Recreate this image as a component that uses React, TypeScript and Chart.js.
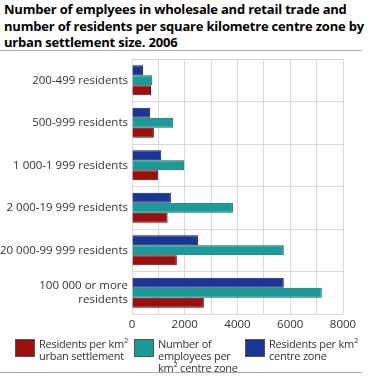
import React, { useEffect, useRef } from "react";
import { Chart, registerables } from "chart.js";

Chart.register(...registerables);

const categories: (string | string[])[] = [
  "200-499 residents",
  "500-999 residents",
  "1 000-1 999 residents",
  "2 000-19 999 residents",
  "20 000-99 999 residents",
  ["100 000 or more", "residents"],
];

const residentsCentreZone = [415, 690, 1110, 1475, 2500, 5755];
const employeesCentreZone = [770, 1565, 1980, 3825, 5755, 7195];
const residentsUrbanSettlement = [720, 830, 995, 1350, 1700, 2725];

const xLabelStep = 2000;

const FONT = "'Open Sans', 'DejaVu Sans', sans-serif";

const RED = "#9b0f0f";
const TEAL = "#1b9a9a";
const BLUE = "#1b3594";

export default function App() {
  const ref = useRef<HTMLCanvasElement | null>(null);

  useEffect(() => {
    if (!ref.current) return;
    const chart = new Chart(ref.current, {
      type: "bar",
      data: {
        labels: categories,
        datasets: [
          {
            label: "Residents per km² centre zone",
            data: residentsCentreZone,
            backgroundColor: BLUE,
            borderColor: "#0e1f5e",
            borderWidth: 1,
          },
          {
            label: "Number of employees per km² centre zone",
            data: employeesCentreZone,
            backgroundColor: TEAL,
            borderColor: "#0f5e5e",
            borderWidth: 1,
          },
          {
            label: "Residents per km² urban settlement",
            data: residentsUrbanSettlement,
            backgroundColor: RED,
            borderColor: "#5a0808",
            borderWidth: 1,
          },
        ],
      },
      options: {
        indexAxis: "y",
        responsive: false,
        animation: false,
        maintainAspectRatio: false,
        layout: { padding: { top: 59, right: 25, left: 0, bottom: 0 } },
        plugins: { legend: { display: false }, tooltip: { enabled: false } },
        datasets: { bar: { categoryPercentage: 0.71, barPercentage: 1 } },
        scales: {
          x: {
            min: 0,
            max: 8000,
            afterFit: (axis: any) => {
              axis.height = 26;
            },
            grid: { color: "#d9d9d9", lineWidth: 1, drawTicks: false },
            border: { display: false },
            ticks: {
              stepSize: 1000,
              color: "#333",
              font: { family: FONT, size: 11.5 },
              padding: 4,
              maxRotation: 0,
              autoSkip: false,
              callback: (v: any) => (Number(v) % xLabelStep === 0 ? String(v) : ""),
            },
          },
          y: {
            afterFit: (axis: any) => {
              axis.width = 132;
            },
            grid: { color: "#d9d9d9", lineWidth: 1, drawTicks: false, offset: true },
            border: { display: false },
            ticks: {
              color: "#333",
              font: { family: FONT, size: 11.5, lineHeight: 1.2 },
              padding: 4,
              autoSkip: false,
            },
          },
        },
      },
    } as any);
    return () => chart.destroy();
  }, []);

  const sup = <sup style={{ fontSize: 7.5, lineHeight: 0 }}>2</sup>;

  const legendItem = (left: number, color: string, lines: React.ReactNode) => (
    <div style={{ position: "absolute", left, top: 338, display: "flex" }}>
      <div
        style={{
          width: 20,
          height: 18,
          background: color,
          border: "1px solid #555",
          boxSizing: "border-box",
          marginTop: 1,
          flex: "none",
        }}
      />
      <div
        style={{
          marginLeft: 4,
          fontSize: 11,
          letterSpacing: "-0.25px",
          lineHeight: "12px",
          color: "#333",
          whiteSpace: "nowrap",
        }}
      >
        {lines}
      </div>
    </div>
  );

  return (
    <div
      style={{
        position: "absolute",
        left: 0,
        top: 0,
        width: 368,
        height: 381,
        background: "#fff",
        fontFamily: FONT,
        overflow: "hidden",
      }}
    >
      <div
        style={{
          position: "absolute",
          left: 4,
          top: 1,
          width: 364,
          fontWeight: "bold",
          fontSize: 13,
          letterSpacing: "-0.2px",
          lineHeight: "16.5px",
          color: "#000",
        }}
      >
        Number of emplyees in wholesale and retail trade and number of residents per square kilometre centre zone by urban settlement size. 2006
      </div>
      <div style={{ position: "absolute", left: 0, top: 50, width: 362, height: 1, background: "#aaa" }} />
      <canvas ref={ref} width={368} height={340} style={{ position: "absolute", left: 0, top: 0 }} />
      {legendItem(15, RED, (
        <>
          Residents per km{sup}
          <br />urban settlement
        </>
      ))}
      {legendItem(134, TEAL, (
        <>
          Number of
          <br />employees per
          <br />km{sup} centre zone
        </>
      ))}
      {legendItem(245, BLUE, (
        <>
          Residents per km{sup}
          <br />centre zone
        </>
      ))}
      <div style={{ position: "absolute", left: 0, top: 372, width: 362, height: 1, background: "#aaa" }} />
    </div>
  );
}
